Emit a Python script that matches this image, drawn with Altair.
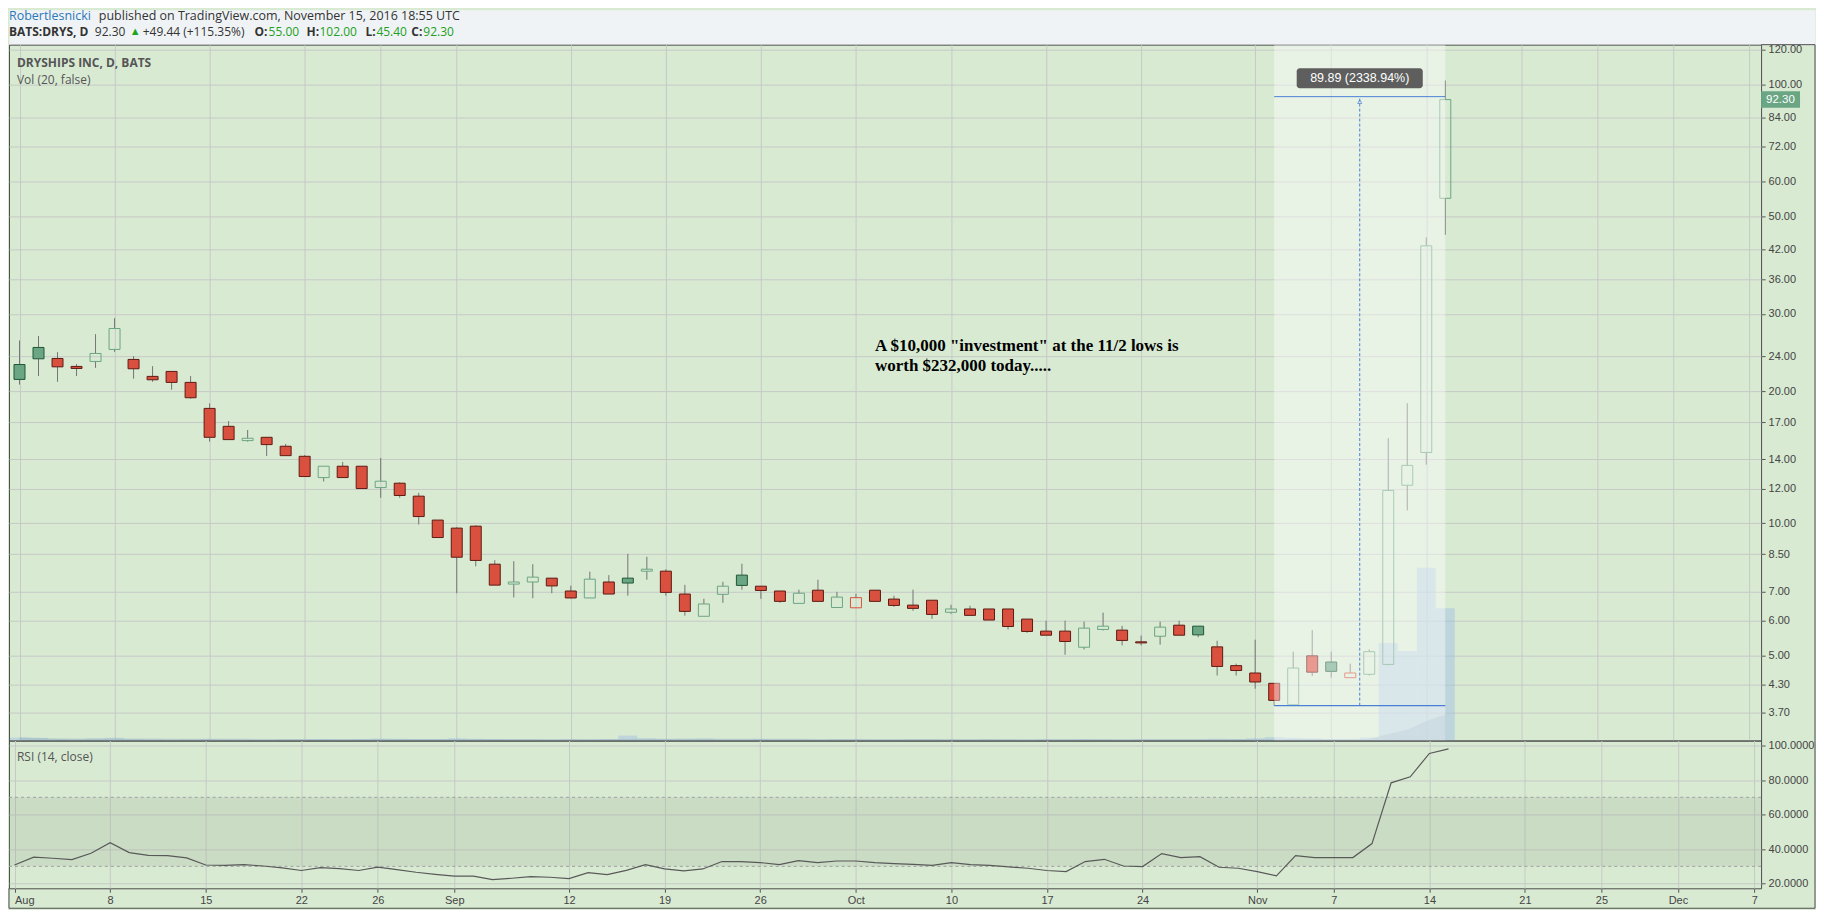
import altair as alt
import pandas as pd
import numpy as np

# ---------------- data ----------------
day_index = list(range(76))  # trading-day index, Aug 1 2016 = 0 ... Nov 15 2016 = 75

open_ = [23.0, 25.15, 23.74, 22.77, 23.37, 24.89, 23.62, 21.61, 22.18, 20.94,
         18.27, 16.63, 15.43, 15.70, 14.98, 14.21, 12.71, 13.49, 13.49, 12.06,
         12.34, 11.53, 10.17, 9.75, 9.85, 8.07, 7.27, 7.35, 7.5, 7.01,
         6.76, 7.35, 7.5, 7.78, 7.78, 6.9, 6.14, 6.89, 7.62, 7.19,
         7.01, 6.57, 7.04, 6.43, 6.42, 7.04, 6.72, 6.51, 6.68, 6.27,
         6.38, 6.38, 6.38, 6.05, 5.68, 5.68, 5.22, 5.73, 5.71, 5.37,
         5.53, 5.86, 5.83, 5.23, 4.74, 4.56, 4.32, 3.86, 4.99, 4.83,
         4.45, 4.53, 4.77, 12.21, 14.5, 55.0]
high = [26.1, 26.7, 24.54, 23.05, 26.97, 29.32, 24.03, 22.8, 22.18, 21.65,
        18.76, 17.1, 16.31, 15.70, 15.16, 14.3, 13.49, 13.8, 13.49, 14.09,
        12.4, 11.73, 10.17, 9.8, 9.9, 8.24, 8.2, 8.07, 7.5, 7.21,
        7.76, 7.62, 8.52, 8.39, 7.86, 7.24, 6.73, 7.36, 8.09, 7.19,
        7.01, 7.06, 7.44, 6.98, 6.91, 7.04, 6.84, 7.06, 6.68, 6.52,
        6.49, 6.38, 6.38, 6.05, 6.0, 6.0, 5.97, 6.26, 5.84, 5.55,
        5.97, 6.0, 5.83, 5.40, 4.79, 5.43, 4.32, 5.10, 5.71, 5.10,
        4.79, 5.16, 15.63, 18.78, 44.83, 102.0]
low = [20.7, 21.65, 21.0, 21.65, 22.6, 24.58, 21.35, 21.0, 20.15, 19.22,
       15.35, 15.51, 15.35, 14.24, 14.26, 12.78, 12.45, 12.71, 12.0, 11.43,
       11.43, 9.94, 9.28, 6.93, 7.98, 7.23, 6.78, 6.75, 6.93, 6.74,
       6.76, 6.9, 6.84, 7.44, 6.84, 6.16, 6.14, 6.59, 7.06, 6.73,
       6.59, 6.57, 6.64, 6.43, 6.42, 6.64, 6.45, 6.32, 6.06, 6.22,
       6.17, 6.02, 5.73, 5.63, 5.56, 5.02, 5.16, 5.70, 5.27, 5.27,
       5.29, 5.56, 5.50, 4.50, 4.50, 4.20, 3.84, 3.86, 4.49, 4.45,
       4.45, 4.50, 4.75, 10.70, 13.6, 45.4]
close = [21.27, 23.7, 22.72, 22.53, 24.37, 27.78, 22.49, 21.23, 20.94, 19.32,
         15.70, 15.51, 15.62, 15.11, 14.26, 12.78, 13.49, 12.71, 12.0, 12.47,
         11.57, 10.36, 9.28, 8.37, 8.23, 7.23, 7.35, 7.54, 7.2, 6.76,
         7.46, 6.9, 7.31, 7.86, 6.96, 6.3, 6.55, 7.19, 7.22, 7.03,
         6.64, 6.93, 6.64, 6.79, 6.77, 6.64, 6.5, 6.4, 6.2, 6.38,
         6.17, 6.02, 5.82, 5.67, 5.56, 5.38, 5.77, 5.83, 5.41, 5.34,
         5.80, 5.56, 5.57, 4.72, 4.62, 4.35, 3.95, 4.68, 4.58, 4.60,
         4.56, 5.10, 11.88, 13.55, 42.86, 92.30]
volume_m = [1.2, 1.0, 0.6, 0.5, 0.8, 1.1, 0.6, 0.5, 0.4, 0.5, 0.6, 0.5, 0.4, 0.4, 0.5,
            0.5, 0.6, 0.5, 0.6, 0.8, 0.7, 0.6, 0.6,
            0.9, 0.7, 0.6, 0.5, 0.5, 0.4, 0.5, 0.5, 0.6, 2.0, 0.9, 0.6, 0.7, 0.8, 0.5,
            0.5, 0.6, 0.5, 0.5, 0.4, 0.5,
            0.5, 0.4, 0.4, 0.5, 0.5, 0.4, 0.4, 0.5, 0.5, 0.4, 0.5, 0.5, 0.6, 0.5, 0.4,
            0.5, 0.5, 0.5, 0.5, 0.7, 0.6,
            0.9, 1.4, 1.1, 0.9, 0.6, 0.5, 1.2, 39.2, 36.0, 69.5, 53.2]
rsi = [30.8, 35.3, 34.7, 33.9, 37.6, 43.7, 38.0, 36.4, 36.2, 34.9,
       30.8, 30.6, 31.0, 30.2, 29.1, 27.6, 29.3, 28.7, 27.6, 29.5,
       28.1, 26.6, 25.4, 24.3, 24.3, 22.3, 23.1, 24.1, 23.7, 22.9,
       26.4, 25.2, 27.7, 31.0, 28.5, 27.4, 28.5, 32.8, 32.8, 32.2,
       31.0, 33.3, 32.2, 33.1, 33.1, 32.2, 31.6, 31.2, 30.6, 32.2,
       31.0, 30.6, 29.7, 28.9, 27.6, 27.0, 32.8, 34.1, 30.2, 29.9,
       37.4, 35.1, 35.6, 29.5, 28.9, 27.0, 24.5, 36.2, 35.1, 35.1,
       35.1, 43.2, 78.4, 81.9, 95.4, 98.1]

tick_idx = [0, 5, 10, 15, 19, 23, 29, 34, 39, 44, 49, 54, 59, 65, 69, 74, 79, 83, 87, 91]
tick_lbl = ["Aug", "8", "15", "22", "26", "Sep", "12", "19", "26", "Oct",
            "10", "17", "24", "Nov", "7", "14", "21", "25", "Dec", "7"]
price_ticks = [3.7, 4.3, 5, 6, 7, 8.5, 10, 12, 14, 17, 20, 24, 30, 36, 42, 50, 60, 72, 84, 100, 120]
rsi_ticks = [20, 40, 60, 80, 100]
rsi_band = [30, 70]
measure_x = [66, 75]
measure_lo = 3.843
measure_hi = 93.73
measure_label = "89.89 (2338.94%)"
last_close = 92.30
note_lines = ['A $10,000 "investment" at the 11/2 lows is', "worth $232,000 today....."]
note_x = 45.0
note_y = [25.4, 22.76]

for arr in (open_, high, low, close, volume_m, rsi):
    assert len(arr) == 76

# ---------------- layout constants ----------------
W, HH, HP, HR = 1755, 35, 697, 148
FRAME_R = 1809          # right edge of the outer frame
FRAME_B = HR + 20       # bottom edge of the outer frame (below the date labels)
X_DOM = [-0.29, 91.35]
P_DOM = [3.2, 123.1]
R_DOM = [17.3, 102.9]
BG = "#d9ead3"
GRID = "#c6c9c6"
FRAME = "#4d4d4d"
FONT = "Liberation Sans"
UIFONT = "Open Sans"
px_per_unit = W / (X_DOM[1] - X_DOM[0])
px_per_ln = HP / np.log(P_DOM[1] / P_DOM[0])

df = pd.DataFrame({"i": day_index, "open": open_, "high": high, "low": low,
                   "close": close, "vol": volume_m, "rsi": rsi})
prev = df["close"].shift(1)
df["top"] = df[["open", "close"]].max(axis=1)
df["bot"] = df[["open", "close"]].min(axis=1)
green = prev.isna() | (df["close"] >= prev)
filled = df["close"] < df["open"]
df["kind"] = pd.Series(np.where(filled, "filled", "hollow")) + "_" + pd.Series(np.where(green, "green", "red"))
df["x0"] = df["i"] - 0.5
df["x1"] = df["i"] + 0.5
df["zero"] = 0.0

kinds = ["filled_red", "filled_green", "hollow_red", "hollow_green"]
fills = ["#d9503f", "#6aa584", "transparent", "transparent"]
strokes = ["#5e1a12", "#1f5636", "#d9503f", "#6aa584"]

XS = alt.Scale(domain=X_DOM, nice=False, zero=False)
PS = alt.Scale(type="log", domain=P_DOM, nice=False, zero=False)
VS = alt.Scale(domain=[0, 280], nice=False, zero=False)
RS = alt.Scale(domain=R_DOM, nice=False, zero=False)

axis_common = dict(title=None, gridColor=GRID, gridWidth=1, domain=False, tickColor="#555555",
                   labelColor="#444444", labelFont=FONT, labelFontSize=11, labelOverlap=False)
XAX_TOP = alt.Axis(values=tick_idx, labels=False, ticks=False, grid=True, **axis_common)
lbl_expr = "[" + ",".join("'%s'" % t for t in tick_lbl) + "][indexof([" + ",".join(str(t) for t in tick_idx) + "], datum.value)]"
XAX_BOT = alt.Axis(values=tick_idx, labelExpr=lbl_expr, grid=True, tickSize=4, labelPadding=2,
                   labelFlush=6, **axis_common)
PAX = alt.Axis(orient="right", values=price_ticks, format=".2f", grid=True, tickSize=4,
               labelPadding=3, **axis_common)
RAX = alt.Axis(orient="right", values=rsi_ticks, format=".4f", grid=True, tickSize=4,
               labelPadding=3, **axis_common)


def px(f):
    return alt.X(f, type="quantitative", scale=XS, axis=XAX_TOP)


def py(f):
    return alt.Y(f, type="quantitative", scale=PS, axis=PAX)


one = pd.DataFrame({"a": [0]})


def frame_rule(x, x2, y, y2):
    return alt.Chart(one).mark_rule(color=FRAME, strokeWidth=1).encode(
        x=alt.value(x), x2=alt.value(x2), y=alt.value(y), y2=alt.value(y2))


# ---------------- header ----------------
hdr_items = [
    ("Robertlesnicki", 0, 6, "#2a78b8", "normal", 12.5),
    ("published on TradingView.com, November 15, 2016 18:55 UTC", 90, 6, "#333333", "normal", 12.5),
    ("BATS:DRYS, D", 0, 22, "#333333", "bold", 12),
    ("92.30", 86, 22, "#333333", "normal", 12),
    ("\u25b2", 121, 22, "#1ea51e", "normal", 11),
    ("+49.44 (+115.35%)", 134, 22, "#333333", "normal", 12),
    ("O:", 246, 22, "#333333", "bold", 12),
    ("55.00", 260, 22, "#22a022", "normal", 12),
    ("H:", 298, 22, "#333333", "bold", 12),
    ("102.00", 311, 22, "#22a022", "normal", 12),
    ("L:", 357, 22, "#333333", "bold", 12),
    ("45.40", 368, 22, "#22a022", "normal", 12),
    ("C:", 403, 22, "#333333", "bold", 12),
    ("92.30", 415, 22, "#22a022", "normal", 12),
]
hdr_texts = [alt.Chart(one).mark_text(text=t, align="left", baseline="middle", font=UIFONT,
                                      fontSize=fs, fontWeight=fw, color=c).encode(x=alt.value(x), y=alt.value(y))
             for (t, x, y, c, fw, fs) in hdr_items]
header = alt.layer(*hdr_texts).properties(
    width=FRAME_R, height=HH, view=alt.ViewBackground(fill="#f0f3f6", stroke="transparent"))

# ---------------- price pane ----------------
base = alt.Chart(df)
vol_bars = base.mark_rect(color="#9dbfe4", opacity=0.45).encode(
    x=px("x0"), x2="x1", y=alt.Y("vol:Q", scale=VS, axis=None), y2="zero")
vol_ma = base.transform_window(ma="mean(vol)", frame=[-19, 0], sort=[{"field": "i"}]).mark_area(
    color="#7393ab", opacity=0.25).encode(x=px("i"), y=alt.Y("ma:Q", scale=VS, axis=None), y2="zero")

wick_up = base.mark_rule(color="#737373", strokeWidth=1).encode(x=px("i"), y=py("high"), y2="top")
wick_dn = base.mark_rule(color="#737373", strokeWidth=1).encode(x=px("i"), y=py("bot"), y2="low")
bodies = base.mark_bar(size=11, strokeWidth=1).encode(
    x=px("i"), y=py("top"), y2="bot",
    fill=alt.Fill("kind:N", scale=alt.Scale(domain=kinds, range=fills), legend=None),
    stroke=alt.Stroke("kind:N", scale=alt.Scale(domain=kinds, range=strokes), legend=None))

xm = (measure_x[0] + measure_x[1]) / 2
box_c = measure_hi * np.exp(18.5 / px_per_ln)
mdf = pd.DataFrame({"x0": [measure_x[0]], "x1": [measure_x[1]], "xm": [xm],
                    "lo": [measure_lo], "hi": [measure_hi],
                    "bx0": [xm - 63.5 / px_per_unit], "bx1": [xm + 63.5 / px_per_unit],
                    "by": [box_c], "by0": [box_c / np.exp(10 / px_per_ln)], "by1": [box_c * np.exp(10 / px_per_ln)],
                    "label": [measure_label]})
mbase = alt.Chart(mdf)
overlay = mbase.mark_rect(color="white", opacity=0.42).encode(x=px("x0"), x2="x1", y=alt.value(0), y2=alt.value(HP))
m_top = mbase.mark_rule(color="#4a7fd6", strokeWidth=1).encode(x=px("x0"), x2="x1", y=py("hi"))
m_bot = mbase.mark_rule(color="#4a7fd6", strokeWidth=1.2).encode(x=px("x0"), x2="x1", y=py("lo"))
m_vert = mbase.mark_rule(color="#4a7fd6", strokeWidth=1, strokeDash=[3, 2]).encode(x=px("xm"), y=py("lo"), y2="hi")
m_arrow = mbase.mark_point(shape="triangle-up", filled=False, color="#4a7fd6", size=18, strokeWidth=1).encode(
    x=px("xm"), y=py("hi"), yOffset=alt.value(5))
m_box = mbase.mark_rect(color="#555555", cornerRadius=3, opacity=0.95).encode(x=px("bx0"), x2="bx1", y=py("by0"), y2="by1")
m_txt = mbase.mark_text(color="white", font=FONT, fontSize=12.5, baseline="middle").encode(x=px("xm"), y=py("by"), text="label:N")

ldf = pd.DataFrame({"p": [last_close], "p_hi": [last_close * np.exp(8.3 / px_per_ln)], "p_lo": [last_close / np.exp(8.3 / px_per_ln)]})
lp_box = alt.Chart(ldf).mark_rect(color="#6aa584").encode(x=alt.value(W), x2=alt.value(W + 39), y=py("p_hi"), y2="p_lo")
lp_txt = alt.Chart(ldf).mark_text(color="white", align="left", baseline="middle", font=FONT, fontSize=11.5).encode(
    x=alt.value(W + 5), y=py("p"), text=alt.Text("p:Q", format=".2f"))

ndf = pd.DataFrame({"x": [note_x, note_x], "y": note_y, "t": note_lines})
note = alt.Chart(ndf).mark_text(align="left", baseline="middle", font="Liberation Serif", fontWeight="bold",
                                fontSize=17, color="black").encode(x=px("x"), y=py("y"), text="t:N")
pane_t1 = alt.Chart(one).mark_text(text="DRYSHIPS INC, D, BATS", align="left", baseline="middle", font=UIFONT,
                                   fontSize=12, fontWeight="bold", color="#555555").encode(x=alt.value(8), y=alt.value(18))
pane_t2 = alt.Chart(one).mark_text(text="Vol (20, false)", align="left", baseline="middle", font=UIFONT,
                                   fontSize=12, color="#555555").encode(x=alt.value(8), y=alt.value(35))

price_frame = [frame_rule(FRAME_R, FRAME_R, 0, HP), frame_rule(W, FRAME_R, 0, 0)]

price_layers = alt.layer(wick_up, wick_dn, bodies, overlay, m_top, m_bot, m_vert, m_arrow, m_box, m_txt,
                         lp_box, lp_txt, note, pane_t1, pane_t2, *price_frame)
price = alt.layer(alt.layer(vol_bars, vol_ma), price_layers).resolve_scale(y="independent").properties(width=W, height=HP)

# ---------------- RSI pane ----------------
bdf = pd.DataFrame({"lo": [rsi_band[0]], "hi": [rsi_band[1]]})
band = alt.Chart(bdf).mark_rect(color="#8fa58c", opacity=0.2).encode(
    x=alt.value(0), x2=alt.value(W), y=alt.Y("lo:Q", scale=RS, axis=RAX), y2="hi")
dashed = alt.Chart(pd.DataFrame({"lvl": rsi_band})).mark_rule(color="#a0a0a0", strokeDash=[3, 3], strokeWidth=1).encode(
    x=alt.value(0), x2=alt.value(W), y=alt.Y("lvl:Q", scale=RS, axis=RAX))
rsi_line = base.mark_line(color="#595959", strokeWidth=1.2).encode(
    x=alt.X("i:Q", scale=XS, axis=XAX_BOT), y=alt.Y("rsi:Q", scale=RS, axis=RAX))
rsi_t = alt.Chart(one).mark_text(text="RSI (14, close)", align="left", baseline="middle", font=UIFONT,
                                 fontSize=12, color="#555555").encode(x=alt.value(8), y=alt.value(17))
rsi_frame = [frame_rule(FRAME_R, FRAME_R, 0, FRAME_B), frame_rule(0, FRAME_R, FRAME_B, FRAME_B),
             frame_rule(0, 0, HR, FRAME_B)]
rsi_chart = alt.layer(band, dashed, rsi_line, rsi_t, *rsi_frame).properties(width=W, height=HR)

chart = alt.vconcat(header, price, rsi_chart, spacing=0, bounds="flush").properties(padding=0).configure(
    background=BG, font=FONT).configure_view(stroke=FRAME, strokeWidth=1)

chart.save("out.html", embed_options={"renderer": "svg", "actions": False})
